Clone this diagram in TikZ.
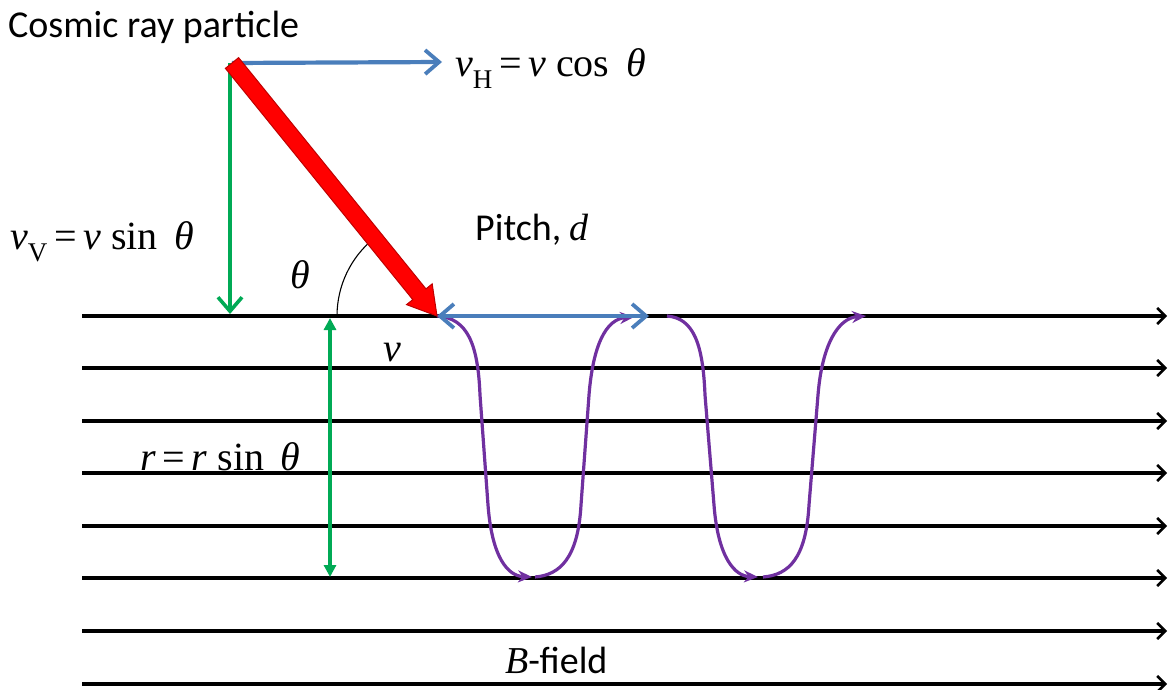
\documentclass[tikz,border=0pt]{standalone}
\usepackage{fontspec}
\setmainfont{Liberation Serif}
\newfontfamily\calib{Carlito}
\usetikzlibrary{arrows.meta,calc}
\definecolor{oblue}{RGB}{74,126,187}
\definecolor{ogreen}{RGB}{0,170,85}
\definecolor{opurple}{RGB}{112,48,160}
\definecolor{ored}{RGB}{255,0,0}
\newcommand\vsubs[1]{\textit{v}\raisebox{-0.3em}{\fontsize{27}{27}\selectfont #1}}
\newcommand\gapsp{\hspace{0.42em}}
\begin{document}
\begin{tikzpicture}[x=1pt,y=-1pt,
  field/.style={line width=3.2pt, black, -{Straight Barb[length=8pt,width=16pt,line width=2.6pt]}},
  barrow/.style={line width=4.2pt, oblue},
  garrow/.style={line width=3.8pt, ogreen},
  parrow/.style={line width=3.2pt, opurple, -{Stealth[length=14pt,width=12pt]}},
  sanslab/.style={inner sep=0pt, font=\calib\fontsize{38}{40}\selectfont},
  serlab/.style={inner sep=0pt, font=\fontsize{40}{44}\selectfont}]
\useasboundingbox (0,0) rectangle (1169,690);
\fill[white] (0,0) rectangle (1169,690);

% field lines
\foreach \k/\yy in {1/316,2/368,3/421,4/473,5/526,6/578,7/631,8/684}{
  \coordinate (fs\k) at (82,\yy);
  \coordinate (fe\k) at (1167,\yy);
  \draw[field] (fs\k) -- (fe\k);
}

% key points
\coordinate (S) at (232,63);
\coordinate (T) at (437,316);
\coordinate (vhend) at (442,62);
\coordinate (vvtop) at (230,63);
\coordinate (vvend) at (230,314);
\coordinate (pend) at (649,316);
\coordinate (rtop) at (330,318);
\coordinate (rbot) at (330,577);

% horizontal component
\draw[barrow, -{Straight Barb[length=14pt,width=24pt,line width=3.8pt]}] (S) -- (vhend);
% vertical component
\draw[garrow, -{Straight Barb[length=14pt,width=24pt,line width=3.6pt]}] (vvtop) -- (vvend);

% angle arc
\draw[line width=1.1pt] ($(T)+(-100,0)$) arc[start angle=-180,end angle=-129,radius=100];

% helix
\coordinate (p1) at (437,316);
\coordinate (p2) at (532,577);
\coordinate (p3) at (535,577);
\coordinate (p4) at (634,317);
\coordinate (p5) at (667,316);
\coordinate (p6) at (758,577);
\coordinate (p7) at (763,577);
\coordinate (p8) at (866,316);
\draw[parrow] (p1) .. controls (468,318) and (478,345) .. (480,395) -- (488,505) .. controls (492,558) and (508,576) .. (p2);
\draw[parrow] (p3) .. controls (560,575) and (578,558) .. (581,505) -- (589,395) .. controls (593,345) and (606,319) .. (p4);
\draw[parrow] (p5) .. controls (694,318) and (703,345) .. (705,395) -- (714,505) .. controls (718,558) and (735,576) .. (p6);
\draw[parrow] (p7) .. controls (789,575) and (806,558) .. (809,505) -- (818,395) .. controls (822,345) and (838,318) .. (p8);

% pitch arrow
\draw[barrow, {Straight Barb[length=14pt,width=24pt,line width=3.8pt]}-{Straight Barb[length=14pt,width=24pt,line width=3.8pt]}] (T) -- (pend);

% radius arrow
\draw[garrow, {Triangle[length=12pt,width=12pt]}-{Triangle[length=12pt,width=12pt]}] (rtop) -- (rbot);

% red velocity arrow
\coordinate (B) at ($(T)!28pt!(S)$);
\filldraw[fill=ored, draw=red!75!black, line width=1pt]
  ($(S)!8.5pt!90:(T)$) -- ($(B)!8.5pt!-90:(S)$) -- ($(B)!16.5pt!-90:(S)$) -- (T)
  -- ($(B)!16.5pt!90:(S)$) -- ($(B)!8.5pt!90:(S)$) -- ($(S)!8.5pt!-90:(T)$) -- cycle;

% labels
\node[sanslab, anchor=base west] (cosmic) at (8,38) {Cosmic ray particle};
\node[serlab, anchor=base west] (vh) at (455,77) {\vsubs{H}\,=\,\textit{v} cos\gapsp\textit{θ}};
\node[serlab, anchor=base west] (vv) at (10,249) {\vsubs{V}\,=\,\textit{v} sin\gapsp\textit{θ}};
\node[sanslab, anchor=base west] (pitch) at (475,240) {Pitch, {\rmfamily\itshape d}};
\node[serlab] (theta) at (300,275) {\textit{θ}};
\node[serlab] (vlab) at (392,353) {\textit{v}};
\node[serlab, anchor=base west] (rlab) at (140,470) {\textit{r}\,=\,\textit{r} sin\gapsp\textit{θ}};
\node[sanslab, anchor=base west] (bfield) at (505,673) {{\rmfamily\itshape B}-field};
\end{tikzpicture}
\end{document}
